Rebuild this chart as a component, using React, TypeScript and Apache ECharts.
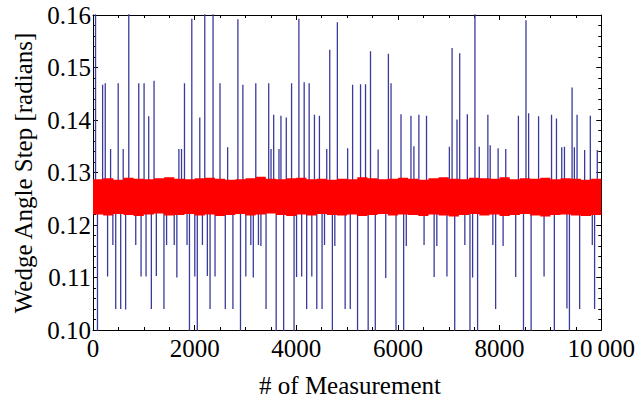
import React, { useEffect, useRef } from "react";
import * as echarts from "echarts";

// ---- data ----
const baseline = 0.1255;

// upward spikes: measurement index and value (values > 0.16 are cut by the frame)
const upSpikeX = [50, 189, 241, 346, 496, 594, 704, 900, 1005, 1096, 1201, 1690, 1742, 1800, 1944, 2101, 2199, 2362, 2499,
  2649, 2851, 2949, 3203, 3457, 3503, 3555, 3659, 3698, 3803, 3907, 4051, 4155, 4253, 4357, 4455, 4599, 4658, 4808, 5010,
  5108, 5264, 5362, 5460, 5610, 5812, 5864, 6060, 6256, 6314, 6412, 6562, 7012, 7065, 7162, 7215, 7365, 7515, 7600,
  7769, 7815, 7971, 8121, 8370, 8519, 8571, 8767, 9022, 9119, 9223, 9276, 9426, 9471, 9524, 9673, 9785, 9922];
const upSpikeV = [0.165, 0.1467, 0.147, 0.1345, 0.147, 0.1345, 0.165, 0.147, 0.147, 0.1407, 0.1475, 0.1345, 0.1345, 0.147, 0.1593, 0.1405, 0.165, 0.165, 0.147,
  0.1348, 0.1592, 0.1467, 0.147, 0.147, 0.1345, 0.141, 0.1345, 0.1408, 0.1405, 0.147, 0.1593, 0.1472, 0.147, 0.141, 0.1408, 0.1345, 0.1534, 0.1586, 0.1346,
  0.1467, 0.1468, 0.1468, 0.1531, 0.1344, 0.1526, 0.147, 0.1411, 0.1408, 0.135, 0.141, 0.1408, 0.1349, 0.1537, 0.1401, 0.1527, 0.1411, 0.165, 0.1349,
  0.141, 0.1352, 0.1346, 0.1345, 0.1408, 0.159, 0.1413, 0.1407, 0.141, 0.1403, 0.1348, 0.1349, 0.1462, 0.1348, 0.141, 0.1343, 0.1408, 0.1343];

// downward spikes (values < 0.10 are cut by the frame)
const downSpikeX = [88, 287, 391, 447, 545, 642, 841, 946, 1044, 1148, 1246, 1396, 1448, 1598, 1650, 1850, 1898, 2003, 2052, 2153, 2250, 2303, 2401,
  2603, 2753, 2902, 3007, 3105, 3154, 3255, 3304, 3405, 3604, 3751, 3956, 4005, 4106, 4204, 4305, 4403, 4507, 4555, 4710, 4758, 4961, 5062,
  5205, 5414, 5554, 5760, 5962, 6112, 6164, 6514, 6712, 6765, 6964, 7117, 7316, 7417, 7469, 7567,
  7867, 7922, 8069, 8317, 8470, 8620, 8875, 9077, 9325, 9374, 9575, 9824, 9869];
const downSpikeV = [0.095, 0.1102, 0.1162, 0.104, 0.104, 0.1039, 0.1162, 0.1102, 0.1102, 0.104, 0.1103, 0.104, 0.1162, 0.1162, 0.11, 0.1162, 0.095, 0.1102, 0.095, 0.1162, 0.1103, 0.104, 0.1102,
  0.104, 0.104, 0.095, 0.1102, 0.1162, 0.11, 0.1162, 0.116, 0.104, 0.095, 0.095, 0.095, 0.1101, 0.1102, 0.104, 0.1102, 0.104, 0.104, 0.1162, 0.095, 0.116, 0.104, 0.104,
  0.095, 0.095, 0.095, 0.1099, 0.095, 0.095, 0.116, 0.1162, 0.1101, 0.116, 0.1102, 0.095, 0.1162, 0.095, 0.11, 0.095,
  0.1162, 0.104, 0.116, 0.1101, 0.095, 0.095, 0.1102, 0.095, 0.1041, 0.095, 0.104, 0.1162, 0.104];

// red band (dense data) envelope, sampled every 200 measurements
const bandX = Array.from({ length: 51 }, (_, i) => i * 200);
const bandUpper = [0.1287, 0.1289, 0.1286, 0.129, 0.1288, 0.1287, 0.1289, 0.1291, 0.1288, 0.1287,
  0.1289, 0.129, 0.1288, 0.1286, 0.1287, 0.1289, 0.1292, 0.1288, 0.1287, 0.1289,
  0.129, 0.1287, 0.1288, 0.1286, 0.1288, 0.1287, 0.1291, 0.1289, 0.1287, 0.1288,
  0.129, 0.1288, 0.1286, 0.1289, 0.1291, 0.1288, 0.1287, 0.129, 0.1289, 0.1288,
  0.1291, 0.1287, 0.1289, 0.1288, 0.129, 0.1287, 0.1289, 0.1288, 0.1286, 0.1288, 0.1287];
const bandLower = [0.122, 0.1218, 0.1221, 0.1219, 0.1217, 0.122, 0.1222, 0.1218, 0.1219, 0.1221,
  0.1218, 0.122, 0.1217, 0.1219, 0.1221, 0.1218, 0.122, 0.1222, 0.1219, 0.1217,
  0.122, 0.1218, 0.1221, 0.1219, 0.1218, 0.122, 0.1217, 0.1219, 0.1221, 0.1218,
  0.122, 0.1219, 0.1217, 0.122, 0.1218, 0.1216, 0.1219, 0.1221, 0.1218, 0.122,
  0.1217, 0.1219, 0.1221, 0.1218, 0.1216, 0.1219, 0.122, 0.1218, 0.1217, 0.1219, 0.122];

const xTicks = { min: 0, max: 10000, interval: 2000 };
const yTicks = { min: 0.1, max: 0.16, interval: 0.01 };
const xTitle = "# of Measurement";
const yTitle = "Wedge Angle Step [radians]";

const FONT = "'Liberation Serif', 'Times New Roman', serif";

export default function App() {
  const ref = useRef<HTMLDivElement>(null);
  useEffect(() => {
    if (!ref.current) return;
    const chart = echarts.init(ref.current, undefined, { renderer: "svg" });

    const spikes: [number, number][] = [];
    upSpikeX.forEach((x, i) => spikes.push([x, upSpikeV[i]]));
    downSpikeX.forEach((x, i) => spikes.push([x, downSpikeV[i]]));
    spikes.sort((a, b) => a[0] - b[0]);
    const blue: [number, number][] = [[xTicks.min, baseline]];
    spikes.forEach(([x, v]) => {
      blue.push([x, baseline], [x, v], [x, baseline]);
    });
    blue.push([xTicks.max, baseline]);

    const tickStyle = { lineStyle: { color: "#000", width: 1 } };
    const mkX = (pos: "bottom" | "top", labels: boolean) => ({
      type: "value",
      position: pos,
      min: xTicks.min,
      max: xTicks.max,
      interval: xTicks.interval,
      axisLine: { show: true, onZero: false, lineStyle: { color: "#000", width: 1 } },
      axisTick: { show: true, inside: true, length: 5, ...tickStyle },
      minorTick: { show: true, splitNumber: 4, length: 3, ...tickStyle },
      splitLine: { show: false },
      axisLabel: {
        show: labels,
        margin: 10.5,
        lineHeight: 16,
        color: "#000",
        fontFamily: FONT,
        fontSize: 25,
        showMinLabel: true,
        showMaxLabel: true,
        formatter: (v: number) => (v === 10000 ? "10\u2009000" : String(v)),
      },
    });
    const mkY = (pos: "left" | "right", labels: boolean) => ({
      type: "value",
      position: pos,
      min: yTicks.min,
      max: yTicks.max,
      interval: yTicks.interval,
      axisLine: { show: true, onZero: false, lineStyle: { color: "#000", width: 1 } },
      axisTick: { show: true, inside: true, length: 5, ...tickStyle },
      minorTick: { show: true, splitNumber: 5, length: 3, ...tickStyle },
      splitLine: { show: false },
      axisLabel: {
        show: labels,
        margin: 2,
        lineHeight: 16,
        color: "#000",
        fontFamily: FONT,
        fontSize: 25,
        showMinLabel: true,
        showMaxLabel: true,
        formatter: (v: number) => v.toFixed(2),
      },
    });

    chart.setOption({
      animation: false,
      grid: { left: 93, right: 34, top: 15, bottom: 73, containLabel: false },
      xAxis: [mkX("bottom", true), mkX("top", false)],
      yAxis: [mkY("left", true), mkY("right", false)],
      series: [
        {
          type: "line",
          data: blue,
          showSymbol: false,
          symbol: "none",
          clip: true,
          lineStyle: { color: "#3a3a9c", width: 1.3 },
          z: 2,
        },
        {
          type: "custom",
          coordinateSystem: "cartesian2d",
          data: [[0, 0.125]],
          encode: { x: 0, y: 1 },
          clip: true,
          silent: true,
          z: 3,
          renderItem: (_p: any, api: any) => {
            const top: number[][] = [];
            const bot: number[][] = [];
            for (let i = 0; i < bandX.length - 1; i++) {
              top.push(api.coord([bandX[i], bandUpper[i]]));
              top.push(api.coord([bandX[i + 1], bandUpper[i]]));
              bot.push(api.coord([bandX[i], bandLower[i]]));
              bot.push(api.coord([bandX[i + 1], bandLower[i]]));
            }
            const pts = top.concat(bot.reverse());
            return { type: "polygon", shape: { points: pts }, style: { fill: "#ff0000", stroke: "none" } };
          },
        },
      ],
      graphic: [
        {
          type: "text",
          x: 350,
          y: 385,
          style: { text: xTitle, font: `25px ${FONT}`, fill: "#000", textAlign: "center", textVerticalAlign: "middle" },
        },
        {
          type: "text",
          x: 23,
          y: 173,
          rotation: Math.PI / 2,
          style: { text: yTitle, font: `25px ${FONT}`, fill: "#000", textAlign: "center", textVerticalAlign: "middle" },
        },
      ],
    });
    return () => chart.dispose();
  }, []);
  return <div ref={ref} style={{ width: 638, height: 403, position: "absolute", left: 0, top: 0 }} />;
}
